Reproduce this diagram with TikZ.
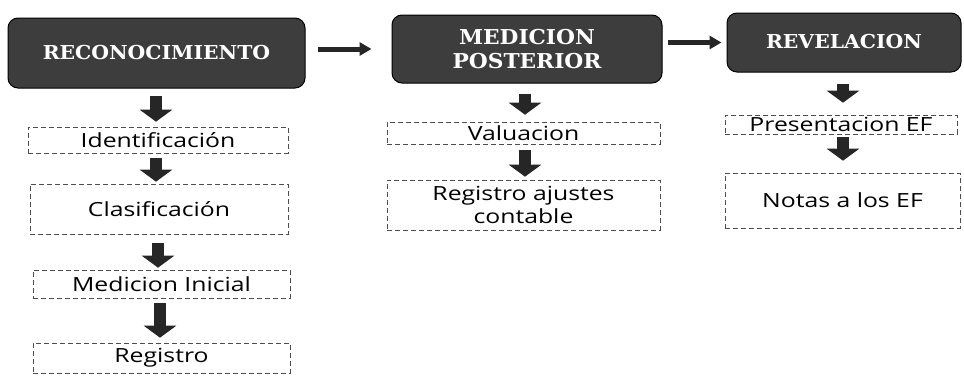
\documentclass[tikz,border=0pt]{standalone}
\usepackage{fontspec}
\usetikzlibrary{arrows.meta}
\newfontfamily\headfont{DejaVu Serif}[FakeStretch=1.06]
\newfontfamily\bodyfont{Open Sans}[FakeStretch=1.27]
\begin{document}
\begin{tikzpicture}[x=1pt,y=-1pt,
  header/.style={draw=black,line width=1pt,fill=black!76,rounded corners=10pt,text=white,
    font=\headfont\bfseries\fontsize{19.2}{24}\selectfont,align=center,inner sep=0pt},
  dbox/.style={draw=black!70,line width=0.6pt,dash pattern=on 5pt off 3pt,
    font=\bodyfont\fontsize{19.5}{23}\selectfont,align=center,inner sep=0pt},
  downarrow/.style={draw=black!85,line width=12pt,-{Triangle[width=32pt 0,length=12pt 0]}},
  rightarrow/.style={draw=black!85,line width=5pt,-{Triangle[width=13pt 0,length=12pt 0]}}
]
\useasboundingbox (0,0) rectangle (964,375);
% headers
\node[header,minimum width=297pt,minimum height=70pt] (rec) at (156.5,53) {RECONOCIMIENTO};
\node[header,minimum width=270pt,minimum height=68pt,font=\headfont\bfseries\fontsize{20.5}{24}\selectfont] (med) at (527,49) {MEDICION\\POSTERIOR};
\node[header,minimum width=234pt,minimum height=59pt] (rev) at (844,42.5) {\raisebox{2pt}{REVELACION}};
% column 1
\node[dbox,minimum width=260pt,minimum height=26pt] (ide) at (158,140) {Identificación};
\node[dbox,minimum width=258pt,minimum height=50pt] (cla) at (159,209) {Clasificación};
\node[dbox,minimum width=257pt,minimum height=28pt] (mi) at (161.5,284) {Medicion Inicial};
\node[dbox,minimum width=257pt,minimum height=30pt] (reg) at (161.5,358) {Registro};
% column 2
\node[dbox,minimum width=273pt,minimum height=22pt] (val) at (523.5,133) {Valuacion};
\node[dbox,minimum width=273pt,minimum height=50pt] (rac) at (523.5,205) {Registro ajustes\\contable};
% column 3
\node[dbox,minimum width=232pt,minimum height=19pt] (pef) at (841,124.5) {Presentacion EF};
\node[dbox,minimum width=235pt,minimum height=55pt] (not) at (842.5,200.5) {Notas a los EF};
% horizontal arrows
\draw[rightarrow] ([xshift=12pt]rec.east |- med.west) -- ([xshift=-20pt]med.west);
\draw[rightarrow] ([xshift=5pt]med.east |- rev.west) -- ([xshift=-5pt]rev.west);
% down arrows
\draw[downarrow] ([yshift=-7pt]rec.south -| 156,0) -- ([yshift=5pt]ide.north -| 156,0);
\draw[downarrow] ([yshift=-5pt]ide.south -| 156,0) -- ([yshift=2pt]cla.north -| 156,0);
\draw[downarrow] ([yshift=-9pt]cla.south -| 158,0) -- ([yshift=2pt]mi.north -| 158,0);
\draw[downarrow] ([yshift=-5pt]mi.south -| 160,0) -- ([yshift=5pt]reg.north -| 160,0);
\draw[downarrow] ([yshift=-10pt]med.south -| 525,0) -- ([yshift=7pt]val.north -| 525,0);
\draw[downarrow] ([yshift=-6pt]val.south -| 525,0) -- ([yshift=3pt]rac.north -| 525,0);
\draw[downarrow] ([yshift=-11pt]rev.south -| 843,0) -- ([yshift=12pt]pef.north -| 843,0);
\draw[downarrow] ([yshift=-3pt]pef.south -| 843,0) -- ([yshift=12pt]not.north -| 843,0);
\end{tikzpicture}
\end{document}
